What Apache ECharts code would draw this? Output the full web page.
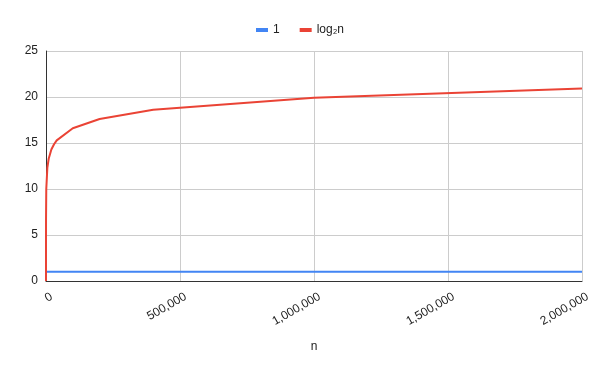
<!DOCTYPE html>
<html>
<head>
<meta charset="utf-8">
<script src="https://cdn.jsdelivr.net/npm/echarts@6/dist/echarts.min.js"></script>
<style>html,body{margin:0;padding:0;background:#fff}#c{width:600px;height:371px}</style>
</head>
<body>
<div id="c"></div>
<script>
const nValues = [1, 10, 100, 1000, 5000, 10000, 20000, 30000, 40000, 100000, 200000, 400000, 1000000, 2000000];
const oneValues = [1, 1, 1, 1, 1, 1, 1, 1, 1, 1, 1, 1, 1, 1];
const logValues = [0, 3.32, 6.64, 9.97, 12.29, 13.29, 14.29, 14.87, 15.29, 16.61, 17.61, 18.61, 19.93, 20.93];
const seriesNames = ['1', 'log\u2082n'];
const xTicks = { min: 0, max: 2000000, interval: 500000 };
const yTicks = { min: 0, max: 25, interval: 5 };

const chart = echarts.init(document.getElementById('c'), null, { renderer: 'canvas' });
const font = 'Arial, "Liberation Sans", sans-serif';
chart.setOption({
  animation: false,
  color: ['#4285f4', '#ea4335'],
  legend: {
    top: 19, left: 'center', itemGap: 20,
    icon: 'rect', itemWidth: 12, itemHeight: 4,
    textStyle: { fontFamily: font, fontSize: 12, color: '#222' },
    data: seriesNames
  },
  grid: { left: 46, right: 18, top: 51, bottom: 90, containLabel: false },
  xAxis: {
    type: 'value', min: xTicks.min, max: xTicks.max, interval: xTicks.interval,
    name: 'n', nameLocation: 'middle', nameGap: 60,
    nameTextStyle: { fontFamily: font, fontSize: 12, color: '#222' },
    axisLine: { show: true, lineStyle: { color: '#333', width: 1 } },
    axisTick: { show: false },
    splitLine: { show: true, lineStyle: { color: '#ccc' } },
    axisLabel: {
      rotate: 30, margin: 11, verticalAlign: 'top', padding: [0, -3, 0, 0],
      fontFamily: font, fontSize: 12, color: '#222',
      formatter: v => v.toLocaleString('en-US')
    }
  },
  yAxis: {
    type: 'value', min: yTicks.min, max: yTicks.max, interval: yTicks.interval,
    axisLine: { show: true, lineStyle: { color: '#333', width: 1 } },
    axisTick: { show: false },
    splitLine: { show: true, lineStyle: { color: '#ccc' } },
    axisLabel: { margin: 8, fontFamily: font, fontSize: 12, color: '#222' }
  },
  series: [
    { name: seriesNames[0], type: 'line', showSymbol: false, lineStyle: { width: 2 },
      data: nValues.map((n, i) => [n, oneValues[i]]) },
    { name: seriesNames[1], type: 'line', showSymbol: false, lineStyle: { width: 2 },
      data: nValues.map((n, i) => [n, logValues[i]]) }
  ]
});
</script>
</body>
</html>
